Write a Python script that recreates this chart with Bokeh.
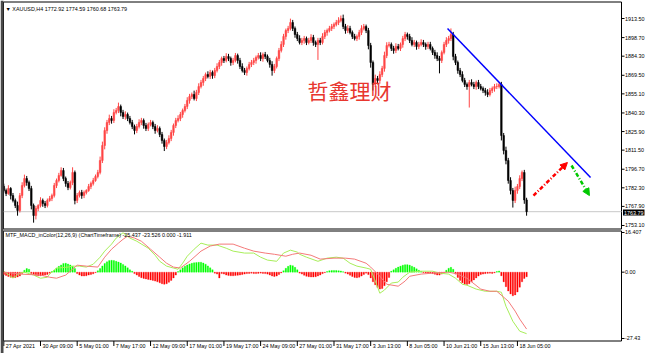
import numpy as np
from bokeh.plotting import figure
from bokeh.models import ColumnDataSource, Range1d, Label, Span, Arrow, NormalHead
from bokeh.core.properties import value
from bokeh.embed import file_html
from bokeh.resources import INLINE

# ---------------- data ----------------
symbol_info = "\u25bc XAUUSD,H4  1772.92 1774.59 1760.68 1763.79"
macd_info = "MTF_MACD_inColor(12,26,9) (ChartTimeframe) -25.437 -23.526 0.000 -1.911"
watermark = "哲鑫理财"

first_open = 1783.5
closes = [
    1780.2, 1777.9, 1781.8, 1776.3, 1772.5, 1768.6, 1764.7, 1776.3, 1784.1, 1789.5, 1786.4, 1781.8, 1768.6, 1760.8, 1766.3, 1768.6, 1772.5, 1770.1, 1768.6, 1772.5, 1774.0,
    1776.3, 1784.1, 1788.0, 1791.9, 1795.7, 1789.5, 1785.6, 1782.5, 1786.4, 1794.2, 1772.5, 1776.3, 1778.7, 1776.3, 1778.7, 1780.2, 1783.3, 1785.6, 1788.0, 1791.1, 1794.2, 1803.5,
    1815.1, 1826.7, 1832.9, 1836.0, 1834.5, 1840.7, 1842.2, 1845.3, 1840.7, 1837.6, 1839.1, 1836.0, 1832.9, 1829.8, 1826.7, 1829.8, 1832.9, 1834.5, 1830.6, 1828.3, 1831.4, 1832.9,
    1829.8, 1826.7, 1828.3, 1823.6, 1819.0, 1814.3, 1817.4, 1820.5, 1825.2, 1830.6, 1834.5, 1836.0, 1839.1, 1842.2, 1845.3, 1850.0, 1853.1, 1854.6, 1851.5, 1856.2, 1860.8, 1863.9,
    1867.0, 1870.1, 1868.6, 1871.7, 1869.3, 1873.2, 1876.3, 1879.4, 1882.5, 1881.0, 1884.1, 1882.5, 1879.4, 1881.0, 1884.8, 1881.0, 1876.3, 1873.2, 1871.7, 1874.8, 1877.9, 1879.4,
    1881.0, 1883.3, 1884.8, 1882.5, 1885.6, 1884.1, 1881.0, 1877.9, 1873.2, 1876.3, 1882.5, 1888.7, 1893.4, 1899.6, 1904.2, 1905.8, 1910.4, 1905.8, 1901.1, 1898.0, 1894.9, 1896.5,
    1898.0, 1894.9, 1896.5, 1898.8, 1894.9, 1893.4, 1896.5, 1894.9, 1899.6, 1902.7, 1904.2, 1905.8, 1907.3, 1908.9, 1910.4, 1912.0, 1913.5, 1907.3, 1904.2, 1905.8, 1902.7, 1899.6,
    1898.0, 1899.6, 1902.7, 1905.8, 1907.3, 1904.2, 1892.6, 1879.4, 1862.4, 1867.0, 1865.5, 1870.1, 1874.8, 1884.8, 1892.6, 1893.4, 1890.3, 1888.7, 1891.8, 1890.3, 1893.4, 1898.0,
    1901.1, 1899.6, 1896.5, 1893.4, 1894.9, 1891.8, 1893.4, 1894.9, 1893.4, 1891.8, 1893.4, 1890.3, 1887.2, 1884.8, 1882.5, 1881.0, 1887.2, 1893.4, 1896.5, 1898.0, 1901.1, 1884.1,
    1879.4, 1873.2, 1870.1, 1865.5, 1862.4, 1860.8, 1863.9, 1862.4, 1860.8, 1863.9, 1860.8, 1859.3, 1857.7, 1856.2, 1854.6, 1857.7, 1859.3, 1860.8, 1860.8, 1862.4, 1822.8, 1811.2,
    1803.5, 1788.0, 1780.2, 1772.5, 1780.2, 1783.3, 1789.5, 1794.2, 1772.92, 1763.79,
]
wick_hi = [
    2, 1.5, 2.5, 1, 2, 1.5, 3, 2, 2.5, 3, 2, 1.5, 2, 1.5, 2, 1, 2.5, 1.5, 2, 1.5, 2,
    1.5, 2, 1.5, 2, 2.5, 2, 1.5, 2, 1.5, 4, 1.5, 2, 1.5, 2, 1.5, 1, 2, 1.5, 2, 1.5, 2, 3,
    3, 2.5, 2, 3, 2, 2.5, 2, 3, 1.5, 2, 2.5, 1.5, 2, 2, 1.5, 2, 2.5, 2, 1.5, 2, 1.5, 2,
    1.5, 2, 2.5, 1.5, 2, 1.5, 2, 2.5, 2, 1.5, 2, 2.5, 2, 1.5, 2, 2.5, 2, 1.5, 3, 2, 2.5, 2,
    2, 1.5, 2.5, 2, 1.5, 2, 2.5, 2, 1.5, 2, 2.5, 2, 1.5, 2, 2, 1.5, 2, 2.5, 2, 1.5, 2, 2,
    2, 1.5, 2, 2.5, 1.5, 2, 1.5, 2, 2.5, 2, 1.5, 2, 2.5, 2, 1.5, 2, 3, 2, 1.5, 2, 2.5, 2,
    2, 1.5, 2, 2.5, 2, 1.5, 2, 2, 2.5, 2, 1.5, 2, 2, 1.5, 2, 2.5, 2.3, 3, 2, 2.5, 2, 1.5,
    2, 1.5, 2, 2.5, 2, 1.5, 2, 2, 1.5, 3, 2, 2.5, 2, 3, 2.5, 2, 1.5, 2, 2.5, 2, 1.5, 2,
    2, 1.5, 2, 2.5, 2, 1.5, 2, 2.5, 2, 1.5, 2, 2, 1.5, 2, 2.5, 2, 1.5, 2, 2.5, 2, 4.7, 2,
    2, 1.5, 2, 2.5, 2, 1.5, 2, 2.5, 2, 1.5, 2, 2, 1.5, 2, 2.5, 2, 1.5, 2, 2.5, 2, 2, 2,
    3, 2, 2.5, 2, 3, 2, 2.5, 1.5, 2, 1.67,
]
wick_lo = [
    1.5, 2, 1, 3, 1.5, 2, 4, 1.5, 2, 1.5, 2.5, 2, 3, 5.5, 3, 2, 1.5, 2.5, 2, 1.5, 1,
    2, 1.5, 2, 1.5, 1, 2, 2.5, 2, 1.5, 2, 3, 2, 1.5, 2.5, 2, 1.5, 1, 2, 1.5, 1, 1.5, 1.5,
    2, 3, 2.5, 2, 2.5, 2, 1.5, 2, 3, 2, 2.5, 2, 1.5, 2, 3, 2, 1.5, 2, 2.5, 2, 2, 1.5,
    2, 2.5, 1.5, 2, 2.5, 3.5, 2, 1.5, 2, 2.5, 2, 1.5, 2, 2.5, 1.5, 2, 2.5, 2, 1.5, 2, 2, 1.5,
    2.5, 2, 1.5, 2, 2.5, 2, 1.5, 2, 2.5, 2, 1.5, 2, 2.5, 2, 1.5, 2.5, 2, 1.5, 2, 2.5, 1.5, 2,
    2, 2.5, 1.5, 2, 2.5, 2, 1.5, 2.5, 4, 2, 1.5, 2, 1.5, 2, 2.5, 2, 1.5, 2, 2.5, 2, 1.5, 2,
    2.5, 2, 1.5, 2, 2.5, 2, 12, 2, 1.5, 2, 2.5, 1.5, 2, 2, 1.5, 2, 1.5, 2, 2.5, 2, 1.5, 2,
    1.5, 2, 2.5, 2, 1.5, 2, 3, 4, 4.7, 2, 3, 2.5, 2, 2.5, 2, 1.5, 2, 2.5, 2, 1.5, 2, 2.5,
    2, 2.5, 2, 1.5, 2, 2.5, 2, 1.5, 2, 2.5, 2, 1.5, 2, 2.5, 2, 10, 2, 1.5, 2, 2.5, 2, 3,
    2, 2.5, 2, 1.5, 2, 2.5, 16.3, 1.5, 2, 2.5, 2, 1.5, 2, 2.5, 2, 1.5, 2, 2.5, 2, 1.5, 3.8, 3,
    3, 2.5, 3, 5.5, 2, 2.5, 2, 2, 3, 3.11,
]
hist = [
    -1.0, -1.4, -1.8, -2.1, -2.3, -2.2, -2.0, -1.6, -0.5,
    0.8, 1.5, 1.2,
    -0.6, -1.0, -1.4, -1.5, -1.5, -1.4, -1.2, -1.0,
    -0.4,
    0.3, 0.8, 1.6, 2.4, 3.0, 3.6, 3.7, 3.4, 3.0, 2.4, 1.5,
    -0.6, -1.2, -1.6, -1.6, -1.5, -1.2, -1.0, -0.7, -0.2,
    0.6, 1.5, 2.6, 3.6, 4.3, 4.8, 4.9, 4.8, 4.5, 4.2, 3.8, 3.2, 2.6, 1.8, 1.0, 0.4,
    -0.6, -1.2, -1.8, -2.3, -2.6, -2.8, -3.0, -3.2, -3.4, -3.7, -4.0, -4.4, -4.8, -5.0, -4.8, -4.2, -3.4, -2.4, -1.2,
    0.3, 1.0, 1.8, 2.5, 3.0, 3.4, 3.7, 3.9, 4.0, 4.1, 4.1, 3.8, 3.3, 2.6, 1.8, 1.0,
    -0.4, -0.8, -2.4, -0.6, -0.8, -1.2, -1.4, -1.5, -1.5, -1.4, -1.3, -1.2, -1.0, -0.8, -0.6, -0.5, -0.4, -0.6, -0.6,
    -0.5, -0.4, -0.5, -0.6, -0.8, -1.2, -1.6, -1.8, -1.6, -1.0, -0.3,
    0.6, 1.6, 2.4, 2.9, 2.7, 2.0, 1.0,
    -0.4,
    -0.8, -1.3, -1.7, -1.9, -2.0, -2.0, -1.9, -1.6, -1.2, -0.6, -0.2,
    0.3, 0.6, 0.7, 0.7, 0.7, 0.6, 0.5, 0.2,
    -0.4, -0.8, -1.3, -1.8, -2.2, -2.3, -2.1, -1.6, -1.0, -0.4,
    -1.0, -2.4, -4.0, -5.2, -6.3, -7.0, -6.8, -5.6, -4.0, -2.2,
    0.4, 1.0, 1.6, 2.1, 2.5, 2.9, 3.1, 3.1, 2.9, 2.5, 2.0, 1.4, 0.8, 0.3,
    -0.2, -0.3, -0.3, -0.4, -0.6, -0.9, -1.2, -1.2, -0.8, -0.3,
    0.8, 1.6, 2.0, 1.2,
    -0.8, -2.2, -3.4, -4.4, -5.0, -5.1, -4.8, -4.0, -3.2, -2.4, -1.6, -1.0,
    -0.8, -0.6, -0.5, -0.4, -0.5, -0.3,
    0.3, 0.5,
    -1.5, -4.0, -6.0, -7.8, -9.0, -9.8, -9.4, -8.2, -6.2, -4.0, -2.6, -1.911,
]
macd_idx = [0, 4, 7, 9, 13, 16, 19, 20, 23, 28, 30, 33, 36, 39, 42, 44, 47, 49, 52, 55,
            58, 63, 66, 68, 71, 74, 76, 78, 80, 83, 86, 89, 93, 97, 100, 105, 109, 112, 115, 119,
            122, 125, 128, 129, 132, 137, 141, 145, 148, 151, 154, 158, 160, 162, 164, 166, 169, 172, 174, 177,
            182, 187, 190, 194, 197, 200, 202, 206, 210, 215, 217, 219, 222, 225, 228]
macd_val = [0.4, -2.4, -0.4, 0.0, -1.2, -2.5, -2.1, -0.8, 1.7, 2.1, 2.5, 2.5, 2.1, 3.3, 6.2, 8.7, 11.6, 14.1, 16.3, 14.1,
            12.8, 9.9, 7.0, 4.5, 2.5, 1.7, 1.2, 3.7, 6.6, 9.5, 12.0, 11.2, 11.2, 9.9, 8.7, 7.9, 7.9, 6.2, 5.0, 4.5,
            7.9, 9.1, 8.3, 7.4, 6.2, 4.5, 5.8, 6.2, 5.8, 3.7, 2.5, 1.7, 1.2, -3.7, -8.7, -7.4, -4.5, -4.1, -2.1, 0.0,
            0.4, 0.4, -0.4, -0.8, -2.5, -5.0, -5.4, -7.0, -7.9, -7.9, -8.3, -14.1, -20.3, -24.4, -25.437]
sig_idx = [0, 7, 16, 20, 23, 27, 32, 36, 41, 44, 47, 50, 52, 54, 57, 60, 64, 68, 71, 74,
           77, 81, 86, 90, 94, 100, 105, 109, 114, 118, 123, 126, 129, 134, 138, 144, 149, 153, 158, 160,
           164, 167, 172, 175, 177, 182, 187, 194, 198, 202, 208, 212, 215, 220, 223, 225, 228]
sig_val = [0.0, -0.8, -1.2, -2.1, -2.5, -1.2, 2.9, 2.5, 2.1, 6.2, 9.5, 12.0, 13.6, 14.9, 14.1, 12.8, 9.5, 6.2, 3.7, 2.1,
           1.7, 4.5, 8.7, 10.8, 11.6, 11.6, 9.9, 8.7, 7.9, 7.4, 6.6, 7.4, 7.9, 7.0, 5.4, 5.8, 5.8, 5.4, 3.7, 2.1,
           -1.7, -5.0, -5.8, -3.7, -1.7, -0.8, -0.4, 0.0, -0.8, -2.5, -7.0, -7.9, -7.9, -12.0, -16.1, -19.4, -23.526]

time_tick_idx = [0, 16, 32, 48, 64, 80, 96, 112, 128, 144, 160, 176, 192, 208, 224]
time_labels = ["27 Apr 2021", "30 Apr 09:00", "5 May 01:00", "7 May 17:00", "12 May 09:00",
               "17 May 01:00", "19 May 17:00", "24 May 09:00", "27 May 01:00", "31 May 17:00",
               "3 Jun 13:00", "8 Jun 05:00", "10 Jun 21:00", "15 Jun 13:00", "18 Jun 05:00"]
price_ticks = [1913.50, 1898.70, 1884.30, 1869.50, 1855.10, 1840.30, 1825.90, 1811.50,
               1796.70, 1782.30, 1767.90, 1753.10]
macd_ticks = [16.407, 0.0, -27.43]
macd_tick_labels = ["16.407", "0.00", "-27.43"]
last_price = 1763.79

trend_x = [193.5, 255.9]
trend_y = [1905.8, 1790.3]
up_arrow_x = [231.0, 245.8]
up_arrow_y = [1776.3, 1801.9]
down_arrow_x = [247.6, 255.4]
down_arrow_y = [1799.6, 1776.3]

# ---------------- layout geometry (pixels of the 647x353 canvas) ----------------
W, H = 647, 353
BAR0_PX, BAR_PX = 3.3, 2.293          # x pixel of bar 0, pixels per bar
P_REF, P_REF_PX, P_PX = 1913.5, 18.0, 1.2905   # price scale
M_ZERO_PX, M_PX = 271.67, 2.418       # macd scale
AXIS_PX = 621                          # right border / price axis
MAIN_TOP, MAIN_BOT = 1.5, 228.5
SUB_TOP, SUB_BOT = 230.5, 340.5


def i_at(px):
    return (px - BAR0_PX) / BAR_PX


def price_at(py):
    return P_REF - (py - P_REF_PX) / P_PX


def macd_at(py):
    return (M_ZERO_PX - py) / M_PX


FONT = "Liberation Sans"
FS = "5.4px"

# ---------------- derived ----------------
n = len(closes)
idx = np.arange(n)
opens = [first_open] + closes[:-1]
tops = [max(o, c) for o, c in zip(opens, closes)]
bots = [min(o, c) for o, c in zip(opens, closes)]
highs = [t + w for t, w in zip(tops, wick_hi)]
lows = [b - w for b, w in zip(bots, wick_lo)]
ccol = ["#ff4545" if c >= o else "#000000" for o, c in zip(opens, closes)]

p = figure(width=W, height=H, x_range=Range1d(i_at(0), i_at(W)),
           y_range=Range1d(price_at(H), price_at(0)),
           x_axis_location=None, y_axis_location=None,
           output_backend="svg", toolbar_location=None,
           min_border_left=0, min_border_right=0, min_border_top=0, min_border_bottom=0)
p.extra_y_ranges = {"macd": Range1d(macd_at(H), macd_at(0))}
p.grid.visible = False
p.outline_line_color = None
p.background_fill_color = "white"
p.border_fill_color = "white"

xl, xr = i_at(3), i_at(AXIS_PX)

# panel frames
p.quad(left=[xl], right=[xr], top=[price_at(MAIN_TOP)], bottom=[price_at(MAIN_BOT)],
       fill_alpha=0, line_color="#000000", line_width=1)
p.quad(left=[xl], right=[xr], top=[macd_at(SUB_TOP)], bottom=[macd_at(SUB_BOT)],
       fill_alpha=0, line_color="#000000", line_width=1, y_range_name="macd")

# bid line
p.segment(x0=[xl], x1=[xr], y0=[last_price], y1=[last_price], line_color="#c8c8c8", line_width=1)

# candles
src = ColumnDataSource(dict(x=idx, top=tops, bottom=bots, high=highs, low=lows, color=ccol))
p.segment(x0="x", y0="high", x1="x", y1="low", line_color="color", line_width=1, source=src)
p.vbar(x="x", width=0.7, top="top", bottom="bottom", fill_color="color",
       line_color="color", line_width=0.5, source=src)

# drawn objects
p.line(trend_x, trend_y, line_color="#0000ff", line_width=1.5)
p.add_layout(Arrow(end=NormalHead(size=7, fill_color="#ff0000", line_color="#ff0000"),
                   x_start=up_arrow_x[0], y_start=up_arrow_y[0],
                   x_end=up_arrow_x[1], y_end=up_arrow_y[1],
                   line_color="#ff0000", line_width=2.5, line_dash="4 2 1 2"))
p.add_layout(Arrow(end=NormalHead(size=7, fill_color="#00c800", line_color="#00c800"),
                   x_start=down_arrow_x[0], y_start=down_arrow_y[0],
                   x_end=down_arrow_x[1], y_end=down_arrow_y[1],
                   line_color="#00c800", line_width=2.5, line_dash="4 2 1 2"))

# price axis (right)
xt0, xt1, xtl = i_at(AXIS_PX), i_at(AXIS_PX + 3), i_at(AXIS_PX + 3.5)
p.segment(x0=[xt0] * len(price_ticks), x1=[xt1] * len(price_ticks), y0=price_ticks, y1=price_ticks,
          line_color="#000000", line_width=1)
p.text(x=[xtl] * len(price_ticks), y=price_ticks, text=[f"{t:.2f}" for t in price_ticks],
       text_font=value(FONT), text_font_size=value(FS), text_color="#000000",
       text_align="left", text_baseline="middle")

# macd panel
hcol = ["#00ff00" if h >= 0 else "#ff0000" for h in hist]
hsrc = ColumnDataSource(dict(x=idx, top=hist, color=hcol))
p.vbar(x="x", width=0.6, top="top", bottom=0, fill_color="color", line_color="color",
       line_width=0.3, source=hsrc, y_range_name="macd")
p.line(macd_idx, macd_val, line_color="#a8ee5a", line_width=1, y_range_name="macd")
p.line(sig_idx, sig_val, line_color="#f47a7a", line_width=1, y_range_name="macd")

p.segment(x0=[xt0] * 3, x1=[xt1] * 3, y0=macd_ticks, y1=macd_ticks,
          line_color="#000000", line_width=1, y_range_name="macd")
p.text(x=[xtl] * 3, y=macd_ticks, text=macd_tick_labels,
       text_font=value(FONT), text_font_size=value(FS), text_color="#000000",
       text_align="left", text_baseline="middle", y_range_name="macd")

# time axis
p.segment(x0=time_tick_idx, x1=time_tick_idx,
          y0=[macd_at(SUB_BOT)] * len(time_tick_idx), y1=[macd_at(SUB_BOT + 5)] * len(time_tick_idx),
          line_color="#000000", line_width=1, y_range_name="macd")
p.text(x=time_tick_idx, y=[macd_at(345.5)] * len(time_tick_idx), text=time_labels, x_offset=2,
       text_font=value(FONT), text_font_size=value(FS), text_color="#000000",
       text_align="left", text_baseline="middle", y_range_name="macd")

# left window border
p.add_layout(Span(location=1.5, location_units="screen", dimension="height",
                  line_color="#4a4a4a", line_width=3))

# texts
p.add_layout(Label(x=349, y=H - 89, x_units="screen", y_units="screen", text=watermark,
                   text_font="Noto Sans CJK SC", text_font_size="21px", text_color="#e8362e",
                   text_align="center", text_baseline="middle"))
p.add_layout(Label(x=5, y=H - 8, x_units="screen", y_units="screen", text=symbol_info,
                   text_font=FONT, text_font_size=FS, text_color="#000000",
                   text_align="left", text_baseline="middle"))
p.add_layout(Label(x=5, y=H - 234, x_units="screen", y_units="screen", text=macd_info,
                   text_font=FONT, text_font_size=FS, text_color="#000000",
                   text_align="left", text_baseline="middle"))
p.add_layout(Label(x=AXIS_PX + 1.5, y=H - 212, x_units="screen", y_units="screen", text="1763.79",
                   text_font=FONT, text_font_size=FS, text_color="#ffffff",
                   background_fill_color="#000000", text_align="left",
                   text_baseline="middle", padding=1))

open("out.html", "w").write(file_html(p, INLINE))
